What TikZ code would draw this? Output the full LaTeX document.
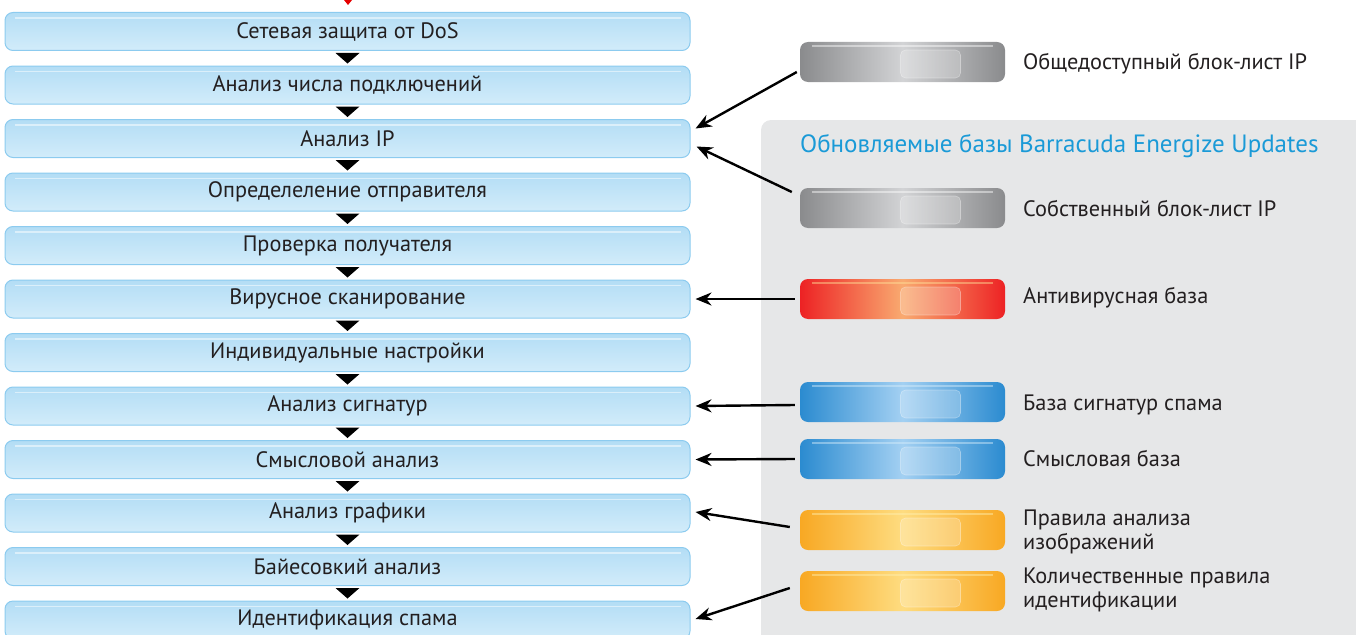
\documentclass[tikz,border=0pt]{standalone}
\usepackage{fontspec}
\setmainfont{PT Sans}
\usetikzlibrary{arrows.meta,calc}
\definecolor{boxrim}{HTML}{8CCBEF}
\definecolor{boxtop}{HTML}{B3DDF5}
\definecolor{boxbot}{HTML}{D2ECFA}
\definecolor{panel}{HTML}{E6E7E8}
\definecolor{titleblue}{HTML}{1A9AD7}
\definecolor{txt}{HTML}{231F20}
\definecolor{gedge}{HTML}{8A8B8D}
\definecolor{gmid}{HTML}{D2D3D5}
\definecolor{redge}{HTML}{ED2224}
\definecolor{rmid}{HTML}{F9AA70}
\definecolor{rhi}{HTML}{FFE29A}
\definecolor{bedge}{HTML}{2B8BD0}
\definecolor{bmid}{HTML}{A3D0F2}
\definecolor{bhi}{HTML}{D8EEFB}
\definecolor{oedge}{HTML}{F8A823}
\definecolor{omid}{HTML}{FEDC80}
\definecolor{ohi}{HTML}{FFF0B0}
\begin{document}
\begin{tikzpicture}[x=1pt,y=-1pt,
  stagebox/.style={rounded corners=8pt,minimum width=685pt,minimum height=38pt,
    draw=boxrim,line width=1pt,top color=boxtop,bottom color=boxbot,
    text=txt,font=\fontsize{22.3}{24}\selectfont,inner sep=0pt},
  pill/.style={rounded corners=8pt,minimum width=205pt,minimum height=40pt,inner sep=0pt},
  lbl/.style={anchor=west,align=left,text=txt,font=\fontsize{22.3}{24}\selectfont,inner sep=0pt},
  conn/.style={line width=2.4pt,-{Stealth[length=16pt,width=13pt]}},
  tri/.style={fill=black}
]
\useasboundingbox (0,0) rectangle (1356,634);
% gray panel
\fill[panel,rounded corners=10pt] (761,120) rectangle (1380,660);
\node[anchor=west,text=titleblue,font=\fontsize{25}{27}\selectfont,inner sep=0pt] (title) at (800,146) {Обновляемые базы Barracuda Energize Updates};
% red tip at top
\fill[red!90!black] (344,0) -- (352,0) -- (348,5) -- cycle;
% stage boxes
\foreach \i/\t in {1/Сетевая защита от DoS,2/Анализ числа подключений,3/Анализ IP,4/Определеление отправителя,5/Проверка получателя,6/Вирусное сканирование,7/Индивидуальные настройки,8/Анализ сигнатур,9/Смысловой анализ,10/Анализ графики,11/Байесовкий анализ,12/Идентификация спама}{
  \node[stagebox] (b\i) at (347.5,{31.5+(\i-1)*53.5}) {\t};
  \draw[white,opacity=0.5,line width=1.2pt] ([xshift=10pt,yshift=-6pt]b\i.north west) -- ([xshift=-10pt,yshift=-6pt]b\i.north east);
}
\foreach \i in {1,...,11}{
  \fill[tri] ([xshift=-12pt,yshift=-2pt]b\i.south) -- ([xshift=12pt,yshift=-2pt]b\i.south) -- ([yshift=-12.5pt]b\i.south) -- cycle;
}
% pills
\newcommand{\mypill}[5]{% name, y, edge colour, middle colour, highlight
  \node[pill,left color=#3,right color=#3,middle color=#4] (#1) at (902.5,#2) {};
  \draw[#5,opacity=0.45,line width=2pt] ([xshift=12pt,yshift=-4pt]#1.north west) -- ([xshift=-12pt,yshift=-4pt]#1.north east);
  \fill[white,opacity=0.22,rounded corners=5pt] ($(#1.center)+(-2,-12)$) rectangle ($(#1.center)+(58,16)$);
  \draw[white,opacity=0.35,rounded corners=5pt,line width=0.6pt] ($(#1.center)+(-2,-12)$) rectangle ($(#1.center)+(58,16)$);
}
\mypill{p1}{62}{gedge}{gmid}{white}
\mypill{p2}{208}{gedge}{gmid}{white}
\mypill{p3}{299}{redge}{rmid}{rhi}
\mypill{p4}{402}{bedge}{bmid}{bhi}
\mypill{p5}{459}{bedge}{bmid}{bhi}
\mypill{p6}{530}{oedge}{omid}{ohi}
\mypill{p7}{591}{oedge}{omid}{ohi}
% labels
\node[lbl] (l1) at (1023,64) {Общедоступный блок-лист IP};
\node[lbl] (l2) at (1023,209) {Собственный блок-лист IP};
\node[lbl] (l3) at (1023,298) {Антивирусная база};
\node[lbl] (l4) at (1023,405) {База сигнатур спама};
\node[lbl] (l5) at (1023,459) {Смысловая база};
\node[lbl] (l6) at (1023,532) {Правила анализа\\изображений};
\node[lbl] (l7) at (1023,590) {Количественные правила\\идентификации};
% connectors
\draw[conn] ([xshift=-3pt,yshift=-10pt]p1.west) -- ([xshift=5pt,yshift=10pt]b3.east);
\draw[conn] ([xshift=-8pt,yshift=16pt]p2.west) -- ([xshift=6pt,yshift=-8pt]b3.east);
\draw[conn] ([xshift=-5pt]p3.west) -- ([xshift=5pt]b6.east);
\draw[conn] ([xshift=-5pt,yshift=-3pt]p4.west) -- ([xshift=5pt]b8.east);
\draw[conn] ([xshift=-5pt]p5.west) -- ([xshift=5pt]b9.east);
\draw[conn] ([xshift=-10pt,yshift=3pt]p6.west) -- ([xshift=5pt,yshift=1pt]b10.east);
\draw[conn] ([xshift=-10pt,yshift=3pt]p7.west) -- ([xshift=5pt,yshift=1pt]b12.east);
\end{tikzpicture}
\end{document}
